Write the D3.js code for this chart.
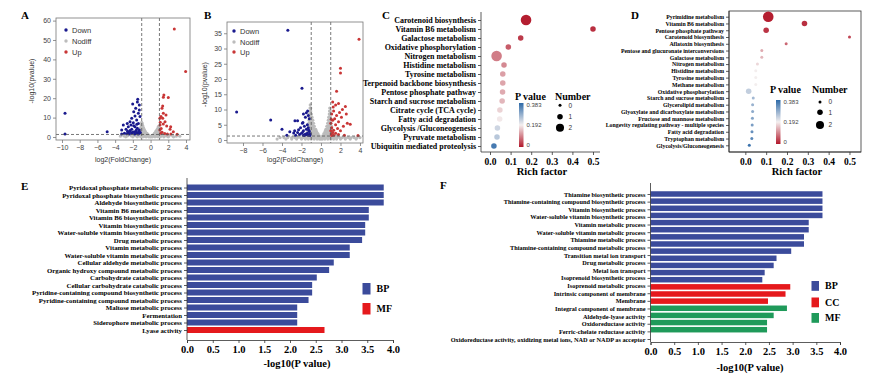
<!DOCTYPE html>
<html><head><meta charset="utf-8">
<script src="https://cdn.jsdelivr.net/npm/d3@7"></script>
<style>body{margin:0;background:#fff}svg{display:block}</style>
</head><body><svg id="c" width="883" height="383"></svg>
<script>
// ---------------- DATA ----------------
// Panel A volcano: [log2FC, -log10(p)]
const volcA_down = [[-9.66,12.2],[-9.66,1.5],[-4.9,2.7],[-1.45,19.4],[-1.49,18],[-1.27,16.5],[-2.02,17],[-1.68,14.8],[-1.27,13.9],[-1.9,13],[-1.38,12.2],[-1.76,10.8],[-1.19,10.5],[-2.13,9.6],[-1.57,8.8],[-2.32,7.9],[-1.95,7.4],[-2.63,7],[-1.38,7],[-3.08,6.2],[-2.21,6.2],[-1.76,5.3],[-2.51,5.3],[-1.49,4.5],[-2.77,4],[-2.13,4],[-3.26,3.6],[-1.6,3.6],[-1.27,3.6],[-2.32,3.3],[-1.85,2.7],[-2.95,1.9],[-2.51,2.2],[-1.57,2.2],[-1.27,1.9],[-2.13,1.9],[-3.26,1.5],[-2.4,1.6],[-1.8,1.6],[-1.4,1.6],[-2.0,2.4],[-1.65,2.8],[-1.35,2.6],[-2.6,3],[-1.9,5.8],[-1.55,6.6],[-2.3,2.8],[-1.15,2.3],[-1.7,1.8],[-2.7,1.7]];
const volcA_up = [[2.68,55.7],[3.96,33.7],[1.5,21.6],[2.0,20.3],[1.44,20.5],[1.37,16],[1.29,14.8],[1.44,12.2],[1.18,10.5],[1.05,9.6],[1.37,9.6],[1.74,11.3],[1.63,7.9],[1.07,6.2],[1.44,6.7],[1.82,5.7],[2.27,5.3],[1.05,3.6],[2.2,4],[1.14,1.9],[2.57,2.7],[1.3,2.5],[1.6,1.8],[1.9,1.6],[2.3,1.5],[3.0,1.4],[1.2,4.4],[1.1,7.6]];
const volcA_nodiff = [[-1.0,7.5],[-0.95,7],[-1.05,6.2],[-0.9,6],[0.9,5.5],[-1.1,5],[-0.95,5.2],[-0.8,4.8],[0.85,4.8],[0.95,4.5],[-1.15,4],[-1.0,4.2],[-0.85,4],[-0.7,3.8],[0.75,4],[0.9,3.8],[1.0,3.6],[-1.2,3],[-1.05,3.2],[-0.9,3.1],[-0.75,3],[-0.6,2.9],[0.6,3],[0.75,3.1],[0.9,3],[1.05,2.9],[-1.3,2],[-1.15,2.1],[-1.0,2.2],[-0.85,2],[-0.7,2.1],[-0.55,2],[-0.4,1.9],[0.45,2],[0.6,2.1],[0.75,2],[0.9,2.1],[1.05,2],[1.2,1.9],[-1.6,1.2],[-1.4,1.2],[-1.25,1.3],[-1.1,1.2],[-0.95,1.3],[-0.8,1.2],[-0.65,1.2],[-0.5,1.1],[-0.35,1.1],[-0.2,1],[0.3,1.1],[0.45,1.2],[0.6,1.2],[0.75,1.3],[0.9,1.2],[1.05,1.3],[1.2,1.2],[1.35,1.2],[1.6,1.1],[-3.4,0.4],[-3.0,0.5],[-2.6,0.6],[-2.2,0.6],[-1.9,0.6],[-1.6,0.5],[-1.3,0.6],[-1.0,0.5],[-0.7,0.5],[-0.4,0.5],[-0.15,0.4],[0.1,0.4],[0.35,0.5],[0.6,0.5],[0.9,0.6],[1.2,0.5],[1.5,0.6],[1.8,0.5],[2.1,0.6],[2.5,0.5],[2.9,0.4],[3.3,0.4],[-2.8,0.1],[-2.0,0.1],[-1.5,0.1],[-1.1,0.1],[-0.8,0.15],[-0.5,0.1],[-0.2,0.1],[0.0,0.05],[0.2,0.1],[0.5,0.1],[0.8,0.15],[1.1,0.1],[1.5,0.1],[2.0,0.1],[2.6,0.1]];

// Panel B volcano
const volcB_down = [[-3.4,36],[-1.95,17],[-8.65,9.2],[-5.16,6.6],[-4.0,3.5],[-3.5,1.6],[-1.5,8.9],[-1.37,9.5],[-2.67,6.3],[-2.4,6.3],[-1.85,5.7],[-3.2,2.7],[-2.8,2.3],[-1.8,8.5],[-1.3,8],[-1.6,7.5],[-1.2,7],[-1.9,5.5],[-1.4,5],[-1.7,4.5],[-2.1,4],[-1.3,4],[-2.7,3],[-1.8,3],[-1.5,3.5],[-2.4,2.5],[-1.2,2.8],[-2.0,2.2],[-1.6,2],[-1.4,2.2],[-1.1,2],[-2.2,1.8],[-1.8,1.6],[-1.3,1.6],[-1.5,1.8],[-1.7,1.5],[-2.6,1.6],[-1.9,2.5],[-1.25,3.2],[-1.15,1.5],[-2.3,3.4]];
const volcB_up = [[3.9,33],[2.0,23.5],[2.0,22],[1.6,16],[1.2,12.5],[1.8,12],[1.5,11.5],[2.5,11],[2.2,10],[1.3,9.5],[1.9,9],[2.6,8.5],[1.1,8.5],[1.6,8],[2.1,7.5],[1.4,7],[1.2,6.5],[1.8,6],[2.7,5.5],[3.0,5.2],[1.0,5.5],[1.5,5],[2.3,4.5],[1.1,4],[1.7,3.8],[1.3,3.2],[1.0,3],[2.0,3],[1.2,2.5],[1.5,2.2],[1.05,2],[1.8,1.8],[1.3,1.6],[1.1,1.5],[3.8,1.5],[2.4,1.6],[1.05,6.8],[1.25,10.8]];
const volcB_nodiff = [[-1.1,11.5],[-1.12,10.5],[-1.05,10.5],[0.9,10.5],[-1.15,9.5],[-1.05,9.5],[0.88,9.5],[0.95,9.5],[-1.18,8.5],[-1.08,8.5],[-0.98,8.5],[0.85,8.5],[0.93,8.5],[-1.2,7.5],[-1.1,7.5],[-1.0,7.5],[-0.92,7.5],[0.8,7.5],[0.88,7.5],[0.96,7.5],[-1.22,6.5],[-1.12,6.5],[-1.02,6.5],[-0.92,6.5],[-0.84,6.5],[0.75,6.5],[0.84,6.5],[0.92,6.5],[1.0,6.5],[-1.25,5.5],[-1.15,5.5],[-1.05,5.5],[-0.95,5.5],[-0.85,5.5],[-0.76,5.5],[0.68,5.5],[0.78,5.5],[0.87,5.5],[0.96,5.5],[1.04,5.5],[-1.28,4.5],[-1.18,4.5],[-1.08,4.5],[-0.98,4.5],[-0.88,4.5],[-0.78,4.5],[-0.68,4.5],[0.6,4.5],[0.7,4.5],[0.8,4.5],[0.9,4.5],[1.0,4.5],[1.08,4.5],[-1.32,3.5],[-1.22,3.5],[-1.12,3.5],[-1.02,3.5],[-0.92,3.5],[-0.82,3.5],[-0.72,3.5],[-0.62,3.5],[-0.54,3.5],[0.5,3.5],[0.6,3.5],[0.7,3.5],[0.8,3.5],[0.9,3.5],[1.0,3.5],[1.1,3.5],[-1.35,2.8],[-1.25,2.8],[-1.15,2.8],[-1.05,2.8],[-0.95,2.8],[-0.85,2.8],[-0.75,2.8],[-0.65,2.8],[-0.55,2.8],[-0.46,2.8],[0.42,2.8],[0.52,2.8],[0.62,2.8],[0.72,2.8],[0.82,2.8],[0.92,2.8],[1.02,2.8],[1.14,2.8],[-1.4,2.1],[-1.3,2.1],[-1.2,2.1],[-1.1,2.1],[-1.0,2.1],[-0.9,2.1],[-0.8,2.1],[-0.7,2.1],[-0.6,2.1],[-0.5,2.1],[-0.4,2.1],[-0.32,2.1],[0.3,2.1],[0.4,2.1],[0.5,2.1],[0.6,2.1],[0.7,2.1],[0.8,2.1],[0.9,2.1],[1.0,2.1],[1.1,2.1],[1.2,2.1],[-1.8,1.4],[-1.6,1.4],[-1.45,1.4],[-1.35,1.4],[-1.25,1.4],[-1.15,1.4],[-1.05,1.4],[-0.95,1.4],[-0.85,1.4],[-0.75,1.4],[-0.65,1.4],[-0.55,1.4],[-0.45,1.4],[-0.35,1.4],[-0.25,1.4],[-0.18,1.4],[0.18,1.4],[0.28,1.4],[0.38,1.4],[0.48,1.4],[0.58,1.4],[0.68,1.4],[0.78,1.4],[0.88,1.4],[0.98,1.4],[1.08,1.4],[1.18,1.4],[1.28,1.4],[1.5,1.4],[1.7,1.4],[-4.2,0.8],[-3.8,0.8],[-3.4,0.8],[-3.0,0.8],[-2.7,0.8],[-2.4,0.8],[-2.1,0.8],[-1.8,0.8],[-1.55,0.8],[-1.4,0.8],[-1.25,0.8],[-1.1,0.8],[-0.95,0.8],[-0.8,0.8],[-0.65,0.8],[-0.5,0.8],[-0.35,0.8],[-0.2,0.8],[-0.1,0.8],[0.1,0.8],[0.2,0.8],[0.35,0.8],[0.5,0.8],[0.65,0.8],[0.8,0.8],[0.95,0.8],[1.1,0.8],[1.25,0.8],[1.4,0.8],[1.6,0.8],[1.9,0.8],[2.2,0.8],[2.5,0.8],[2.8,0.8],[3.1,0.8],[3.4,0.8],[3.7,0.8],[4.0,0.8],[-4.5,0.3],[-3.6,0.3],[-3.0,0.3],[-2.5,0.3],[-2.0,0.3],[-1.6,0.3],[-1.3,0.3],[-1.0,0.3],[-0.7,0.3],[-0.4,0.3],[-0.15,0.3],[0.0,0.3],[0.15,0.3],[0.4,0.3],[0.7,0.3],[1.0,0.3],[1.3,0.3],[1.6,0.3],[2.0,0.3],[2.5,0.3],[3.0,0.3],[3.6,0.3]];

const volcA_xticks = [-10,-8,-6,-4,-2,0,2,4];
const volcA_yticks = [0,10,20,30,40,50,60];
const volcB_xticks = [-8,-6,-4,-2,0,2,4];
const volcB_yticks = [0,5,10,15,20,25,30,35];
const volcLegend = ["Down","Nodiff","Up"];

// Panel C KEGG bubble
const keggC_terms = ["Carotenoid biosynthesis","Vitamin B6 metabolism","Galactose metabolism","Oxidative phosphorylation","Nitrogen metabolism","Histidine metabolism","Tyrosine metabolism","Terpenoid backbone biosynthesis","Pentose phosphate pathway","Starch and sucrose metabolism","Citrate cycle (TCA cycle)","Fatty acid degradation","Glycolysis /Gluconeogenesis","Pyruvate metabolism","Ubiquitin mediated proteolysis"];
const keggC_rich = [0.175,0.5,0.149,0.089,0.032,0.068,0.062,0.062,0.061,0.059,0.048,0.047,0.036,0.034,0.019];
const keggC_p = [0.005,0.02,0.03,0.06,0.09,0.1,0.12,0.125,0.13,0.14,0.165,0.185,0.23,0.25,0.36];
const keggC_num = [3,1,1,1,3,1,1,1,1,1,1,1,1,1,1];

// Panel D KEGG bubble
const keggD_terms = ["Pyrimidine metabolism","Vitamin B6 metabolism","Pentose phosphate pathway","Carotenoid biosynthesis","Aflatoxin biosynthesis","Pentose and glucuronate interconversions","Galactose metabolism","Nitrogen metabolism","Histidine metabolism","Tyrosine metabolism","Methane metabolism","Oxidative phosphorylation","Starch and sucrose metabolism","Glycerolipid metabolism","Glyoxylate and dicarboxylate metabolism","Fructose and mannose metabolism","Longevity regulating pathway - multiple species","Fatty acid degradation","Tryptophan metabolism","Glycolysis/Gluconeogenesis"];
const keggD_rich = [0.11,0.284,0.10,0.5,0.196,0.079,0.079,0.058,0.05,0.05,0.05,0.016,0.038,0.035,0.035,0.034,0.033,0.032,0.031,0.019];
const keggD_p = [0.005,0.02,0.025,0.04,0.07,0.13,0.14,0.17,0.19,0.19,0.19,0.24,0.27,0.28,0.29,0.3,0.31,0.33,0.34,0.37];
const keggD_num = [3,1,1,0,0,0,0,0,0,0,0,1,0,0,0,0,0,0,0,0];

const richTicks = [0,0.1,0.2,0.3,0.4,0.5];
const pLegendTicks = [0.383,0.192,0];
const numLegend = [0,1,2];

// Panel E GO bars
const goE_terms = ["Pyridoxal phosphate metabolic process","Pyridoxal phosphate biosynthetic process","Aldehyde biosynthetic process","Vitamin B6 metabolic process","Vitamin B6 biosynthetic process","Vitamin biosynthetic process","Water-soluble vitamin biosynthetic process","Drug metabolic process","Vitamin metabolic process","Water-soluble vitamin metabolic process","Cellular aldehyde metabolic process","Organic hydroxy compound metabolic process","Carbohydrate catabolic process","Cellular carbohydrate catabolic process","Pyridine-containing compound biosynthetic process","Pyridine-containing compound metabolic process","Maltose metabolic process","Fermentation","Siderophore metabolic process","Lyase activity"];
const goE_values = [3.82,3.82,3.82,3.53,3.53,3.46,3.46,3.40,3.16,3.16,2.85,2.76,2.52,2.43,2.43,2.36,2.14,2.14,2.14,2.67];
const goE_class = ["BP","BP","BP","BP","BP","BP","BP","BP","BP","BP","BP","BP","BP","BP","BP","BP","BP","BP","BP","MF"];
const goE_legend = ["BP","MF"];

// Panel F GO bars
const goF_terms = ["Thiamine biosynthetic process","Thiamine-containing compound biosynthetic process","Vitamin biosynthetic process","Water-soluble vitamin biosynthetic process","Vitamin metabolic process","Water-soluble vitamin metabolic process","Thiamine metabolic process","Thiamine-containing compound metabolic process","Transition metal ion transport","Drug metabolic process","Metal ion transport","Isoprenoid biosynthetic process","Isoprenoid metabolic process","Intrinsic component of membrane","Membrane","Integral component of membrane","Aldehyde-lyase activity","Oxidoreductase activity","Ferric-chelate reductase activity","Oxidoreductase activity, oxidizing metal ions, NAD or NADP as acceptor"];
const goF_values = [3.63,3.63,3.63,3.63,3.34,3.34,3.24,3.24,2.97,2.66,2.60,2.41,2.36,2.95,2.85,2.48,2.88,2.60,2.46,2.46];
const goF_class = ["BP","BP","BP","BP","BP","BP","BP","BP","BP","BP","BP","BP","BP","CC","CC","CC","MF","MF","MF","MF"];
const goF_legend = ["BP","CC","MF"];
const goTicks = [0,0.5,1,1.5,2,2.5,3,3.5,4];

// ---------------- DRAWING ----------------
const svg = d3.select("#c");
const SERIF = "'Liberation Serif','Times New Roman',serif";
const SANS = "'Liberation Sans',Arial,sans-serif";

function styleAxis(sel, o) {
  sel.attr("font-family", o.ff).attr("font-size", o.fs).attr("font-weight", o.fw || "normal");
  sel.selectAll("text").attr("fill", o.fill || "#000");
  sel.selectAll("line").attr("stroke", o.stroke || "#000").attr("stroke-width", o.sw || 0.8);
  sel.select(".domain").attr("stroke", o.stroke || "#000").attr("stroke-width", o.sw || 0.8);
  if (o.noDomain) sel.select(".domain").remove();
}

function panelLetter(t, x, y) {
  svg.append("text").attr("x", x).attr("y", y).text(t)
    .attr("font-family", SERIF).attr("font-weight", "bold").attr("font-size", 11);
}

function volcano(c) {
  const x = d3.scaleLinear().domain(c.xd).range([c.x0, c.x1]);
  const y = d3.scaleLinear().domain(c.yd).range([c.y1, c.y0]);
  const g = svg.append("g");
  const colors = { Down: "#1a1a8e", Nodiff: "#bcbcbc", Up: "#c93636" };
  g.append("g").selectAll("circle").data(c.nodiff).join("circle")
    .attr("cx", d => x(d[0])).attr("cy", d => y(d[1])).attr("r", 1.6).attr("fill", colors.Nodiff);
  g.append("g").selectAll("circle").data(c.down).join("circle")
    .attr("cx", d => x(d[0])).attr("cy", d => y(d[1])).attr("r", 1.5).attr("fill", colors.Down);
  g.append("g").selectAll("circle").data(c.up).join("circle")
    .attr("cx", d => x(d[0])).attr("cy", d => y(d[1])).attr("r", 1.5).attr("fill", colors.Up);
  // thresholds
  [-1, 1].forEach(v => g.append("line").attr("x1", x(v)).attr("x2", x(v)).attr("y1", c.y0).attr("y2", c.y1)
    .attr("stroke", "#555").attr("stroke-width", 0.8).attr("stroke-dasharray", "3,2"));
  g.append("line").attr("x1", c.x0).attr("x2", c.x1).attr("y1", y(1.3)).attr("y2", y(1.3))
    .attr("stroke", "#555").attr("stroke-width", 0.8).attr("stroke-dasharray", "3,2");
  g.append("rect").attr("x", c.x0).attr("y", c.y0).attr("width", c.x1 - c.x0).attr("height", c.y1 - c.y0)
    .attr("fill", "none").attr("stroke", "#777").attr("stroke-width", 0.8);
  const ax = g.append("g").attr("transform", `translate(0,${c.y1})`)
    .call(d3.axisBottom(x).tickValues(c.xt).tickSize(3).tickPadding(2).tickFormat(d3.format("d")));
  styleAxis(ax, { ff: SANS, fs: 7, fill: "#444", stroke: "#777", noDomain: true });
  const ay = g.append("g").attr("transform", `translate(${c.x0},0)`)
    .call(d3.axisLeft(y).tickValues(c.yt).tickSize(3).tickPadding(2).tickFormat(d3.format("d")));
  styleAxis(ay, { ff: SANS, fs: 7, fill: "#444", stroke: "#777", noDomain: true });
  g.append("text").attr("x", (c.x0 + c.x1) / 2).attr("y", 162).attr("text-anchor", "middle")
    .attr("font-family", SANS).attr("font-size", 7).attr("fill", "#333").text("log2(FoldChange)");
  g.append("text").attr("transform", `translate(${c.ylx},${(c.y0 + c.y1) / 2 + 2}) rotate(-90)`)
    .attr("text-anchor", "middle").attr("font-family", SANS).attr("font-size", 7).attr("fill", "#333").text("-log10(pvalue)");
  volcLegend.forEach((k, i) => {
    g.append("circle").attr("cx", c.lx).attr("cy", c.ly[i]).attr("r", 1.7).attr("fill", colors[k]);
    g.append("text").attr("x", c.lx + 6).attr("y", c.ly[i] + 2.5).attr("font-family", SANS)
      .attr("font-size", 7.5).attr("fill", "#333").text(k);
  });
}

volcano({ x0: 56, x1: 190, y0: 18, y1: 140, xd: [-10.677, 4.452], yd: [-1.55, 61.34],
  xt: volcA_xticks, yt: volcA_yticks, down: volcA_down, up: volcA_up, nodiff: volcA_nodiff,
  lx: 66, ly: [30, 41, 52], ylx: 34 });
volcano({ x0: 227, x1: 363, y0: 22, y1: 143, xd: [-9.64, 4.31], yd: [-0.98, 38.69],
  xt: volcB_xticks, yt: volcB_yticks, down: volcB_down, up: volcB_up, nodiff: volcB_nodiff,
  lx: 234, ly: [31, 42, 52], ylx: 207 });

// gradient for P value
const defs = svg.append("defs");
const pColor = d3.scaleLinear().domain([0, 0.192, 0.383]).range(["#b2182b", "#f4f0f0", "#2e6aa8"]);
const grad = defs.append("linearGradient").attr("id", "pgrad").attr("x1", 0).attr("x2", 0).attr("y1", 1).attr("y2", 0);
[0, 0.25, 0.5, 0.75, 1].forEach(t => grad.append("stop").attr("offset", t).attr("stop-color", pColor(t * 0.383)));

function bubble(c) {
  const x = d3.scaleLinear().domain(c.xd).range([c.x0, c.x1]);
  const y = d3.scalePoint().domain(c.terms).range([c.r0, c.r1]);
  const r = d3.scaleLinear().domain([0, 3]).range([1.5, 5.3]);
  const g = svg.append("g");
  if (c.box) {
    g.append("rect").attr("x", c.x0).attr("y", c.y0).attr("width", c.x1 - c.x0).attr("height", c.y1 - c.y0)
      .attr("fill", "none").attr("stroke", "#333").attr("stroke-width", 0.8);
  }
  const ay = g.append("g").attr("transform", `translate(${c.x0},0)`)
    .call(d3.axisLeft(y).tickSize(3).tickPadding(2));
  styleAxis(ay, { ff: SERIF, fs: c.lfs, fw: "bold", stroke: "#333" });
  ay.select(".domain").attr("d", `M-0,${c.y0}V${c.y1}`);
  const ax = g.append("g").attr("transform", `translate(0,${c.y1})`)
    .call(d3.axisBottom(x).tickValues(richTicks).tickSize(3).tickPadding(3).tickFormat(d3.format(".1f")));
  styleAxis(ax, { ff: SERIF, fs: 9.5, fw: "bold", stroke: "#333" });
  ax.select(".domain").attr("d", `M${c.x0},0H${c.x1}`);
  const data = c.terms.map((t, i) => ({ t, rich: c.rich[i], p: c.p[i], n: c.num[i] }));
  g.append("g").selectAll("circle").data(data.slice().sort((a, b) => a.n - b.n)).join("circle")
    .attr("cx", d => x(d.rich)).attr("cy", d => y(d.t)).attr("r", d => r(d.n))
    .attr("fill", d => pColor(d.p));
  g.append("text").attr("x", c.tx).attr("y", 175).attr("text-anchor", "middle")
    .attr("font-family", SERIF).attr("font-weight", "bold").attr("font-size", 10.5).text("Rich factor");
  // legends
  const L = c.leg;
  g.append("text").attr("x", L.px).attr("y", L.ty).attr("font-family", SERIF).attr("font-weight", "bold")
    .attr("font-size", 10).text("P value");
  g.append("rect").attr("x", L.bx).attr("y", L.by0).attr("width", 4.5).attr("height", L.by1 - L.by0).attr("fill", "url(#pgrad)");
  const py = d3.scaleLinear().domain([0, 0.383]).range([L.by1 - 2, L.by0 + 2]);
  pLegendTicks.forEach(v => g.append("text").attr("x", L.bx + 7.5).attr("y", py(v) + 2).attr("font-family", SANS)
    .attr("font-size", 6).attr("fill", "#444").text(String(v)));
  g.append("text").attr("x", L.nx).attr("y", L.ty).attr("font-family", SERIF).attr("font-weight", "bold")
    .attr("font-size", 10).text("Number");
  numLegend.forEach((v, i) => {
    g.append("circle").attr("cx", L.dx).attr("cy", L.dy[i]).attr("r", r(v)).attr("fill", "#000");
    g.append("text").attr("x", L.dx + 8.5).attr("y", L.dy[i] + 2.3).attr("font-family", SANS)
      .attr("font-size", 6.5).attr("fill", "#333").text(String(v));
  });
}

bubble({ terms: keggC_terms, rich: keggC_rich, p: keggC_p, num: keggC_num,
  x0: 481, x1: 600, xd: [-0.0437, 0.534], y0: 12, y1: 152, r0: 20, r1: 146, lfs: 8, box: false, tx: 542,
  leg: { px: 515, nx: 555, ty: 99.5, bx: 519, by0: 103, by1: 147, dx: 560, dy: [105.3, 116.7, 127.7] } });
bubble({ terms: keggD_terms, rich: keggD_rich, p: keggD_p, num: keggD_num,
  x0: 729, x1: 861, xd: [-0.0784, 0.5553], y0: 11, y1: 152, r0: 16.7, r1: 145.3, lfs: 5.8, box: true, tx: 797,
  leg: { px: 770, nx: 812, ty: 92.5, bx: 776, by0: 100, by1: 144, dx: 820, dy: [102, 112.3, 125] } });

// GO bars
function goBars(c) {
  const x = d3.scaleLinear().domain([0, 4]).range([c.x0, c.x1]);
  const yl = d3.scalePoint().domain(c.terms).range([c.t0, c.t1]);
  const yb = d3.scalePoint().domain(c.terms).range([c.b0, c.b1]);
  const g = svg.append("g");
  const data = c.terms.map((t, i) => ({ t, v: c.values[i], k: c.cls[i] }));
  g.append("g").selectAll("rect").data(data).join("rect")
    .attr("x", x(0)).attr("y", d => yb(d.t) - c.h / 2).attr("width", d => x(d.v) - x(0)).attr("height", c.h)
    .attr("fill", d => c.colors[d.k]);
  const ay = g.append("g").attr("transform", `translate(${c.x0},0)`)
    .call(d3.axisLeft(yl).tickSize(3).tickPadding(2));
  styleAxis(ay, { ff: SERIF, fs: c.lfs, fw: "bold", stroke: "#333" });
  ay.select(".domain").attr("d", `M0,${c.atop}V${c.ay}`);
  const ax = g.append("g").attr("transform", `translate(0,${c.ay})`)
    .call(d3.axisBottom(x).tickValues(goTicks).tickSize(3).tickPadding(3).tickFormat(d3.format(".1f")));
  styleAxis(ax, { ff: SERIF, fs: 10.5, fw: "bold", stroke: "#333" });
  g.append("text").attr("x", c.tx).attr("y", c.ty).attr("text-anchor", "middle")
    .attr("font-family", SERIF).attr("font-weight", "bold").attr("font-size", 10.5).text("-log10(P value)");
  c.legend.forEach((k, i) => {
    g.append("rect").attr("x", c.lx).attr("y", c.ly[i]).attr("width", c.lw).attr("height", c.lh).attr("fill", c.colors[k]);
    g.append("text").attr("x", c.lx + c.lw + 6).attr("y", c.ly[i] + c.lh / 2 + 3.5).attr("font-family", SERIF)
      .attr("font-weight", "bold").attr("font-size", 10).text(k);
  });
}

goBars({ terms: goE_terms, values: goE_values, cls: goE_class, legend: goE_legend,
  colors: { BP: "#3b4b9b", MF: "#e5191c" },
  x0: 187, x1: 393, t0: 187.5, t1: 330, b0: 187.5, b1: 330, h: 6, ay: 340, atop: 178, lfs: 6.8,
  tx: 297, ty: 367, lx: 362.5, ly: [283, 303], lw: 8, lh: 11.5 });
goBars({ terms: goF_terms, values: goF_values, cls: goF_class, legend: goF_legend,
  colors: { BP: "#3b4b9b", CC: "#e5191c", MF: "#1f9a5a" },
  x0: 650.5, x1: 840, t0: 194, t1: 339, b0: 194, b1: 329.7, h: 5.5, ay: 342, atop: 183, lfs: 6.3,
  tx: 750, ty: 370.5, lx: 811.5, ly: [281, 297.5, 313], lw: 7.5, lh: 9.8 });

panelLetter("A", 21, 18.5);
panelLetter("B", 204, 18.5);
panelLetter("C", 382, 18.5);
panelLetter("D", 631, 18.5);
panelLetter("E", 21, 190);
panelLetter("F", 440, 189);
</script></body></html>
